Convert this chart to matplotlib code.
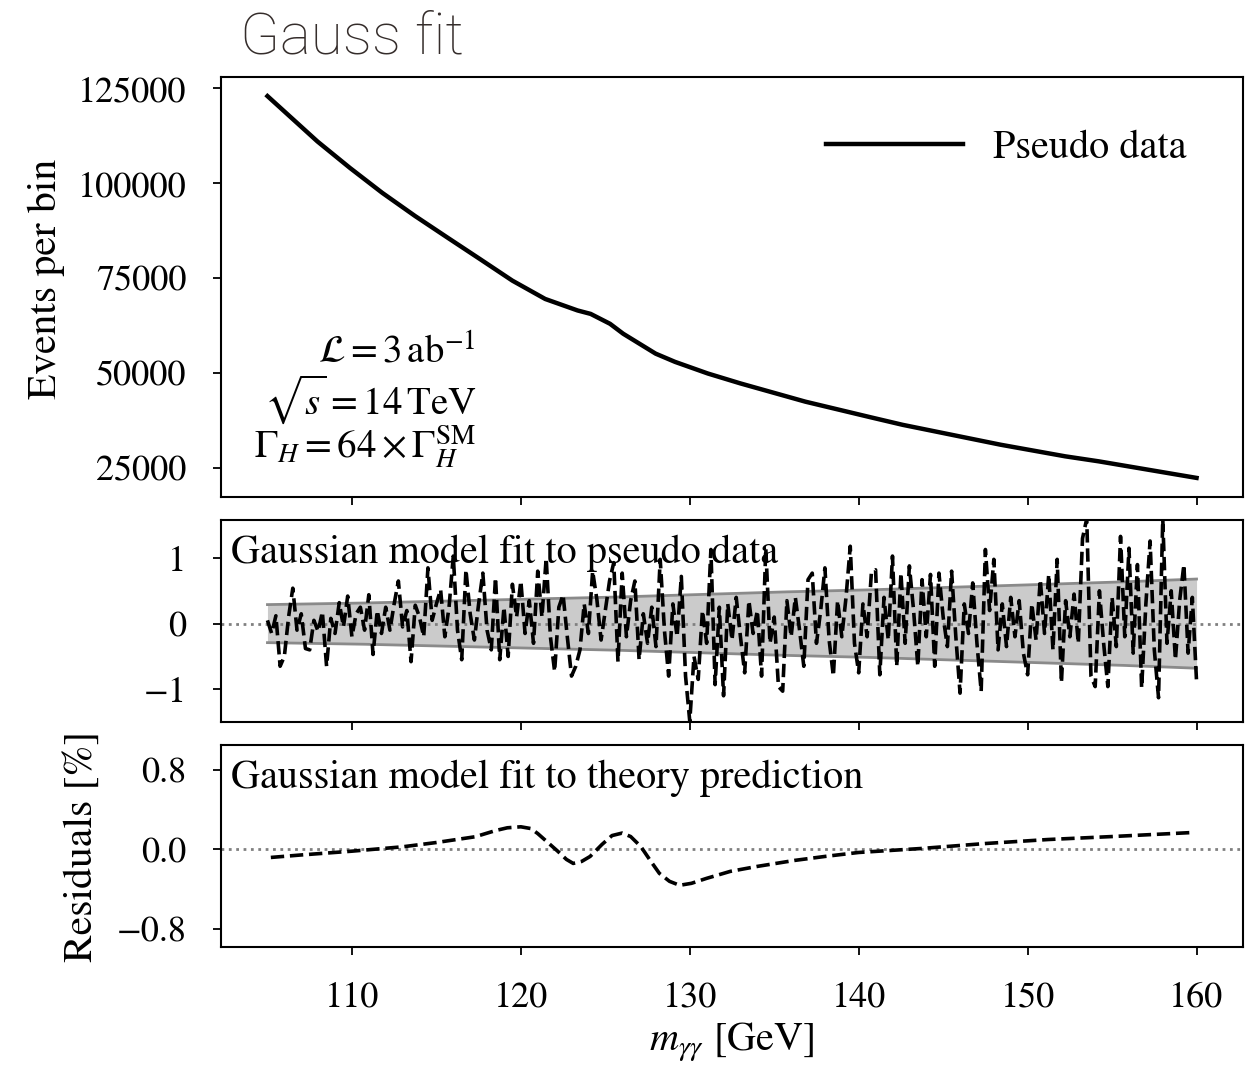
import numpy as np
import matplotlib
matplotlib.use("Agg")
import matplotlib.pyplot as plt

plt.rcParams['font.family'] = ['STIXGeneral', 'DejaVu Serif']
plt.rcParams['mathtext.fontset'] = 'stix'

# ---------------- data ----------------
# top panel: pseudo data (events per bin)
data_x = [105.0, 107.96, 109.89, 111.8, 113.74, 115.66, 117.59, 119.5, 121.44,
          123.36, 124.13, 125.28, 126.06, 127.98, 129.13, 131.07, 133.0, 136.84,
          140.7, 142.6, 148.4, 152.23, 154.2, 160.0]
data_y = [123000, 111050, 104060, 97510, 91420, 85730, 80060, 74400, 69580,
          66550, 65650, 63040, 60420, 55180, 53010, 49950, 47340, 42540,
          38430, 36440, 31200, 28140, 26830, 22460]

# middle panel: residuals of Gaussian fit to pseudo data (%), bins from 105 to 160 step 0.25
pseudo_start, pseudo_step = 105.0, 0.25
pseudo_res = [
    0.05, -0.15, 0.12, -0.65,
    -0.50, 0.10, 0.54, -0.10,
    0.15, -0.38, -0.40, 0.05,
    -0.12, 0.18, -0.65, 0.08,
    -0.15, 0.32, -0.05, 0.42,
    -0.20, 0.15, 0.25, -0.10,
    0.44, -0.47, 0.20, -0.15,
    0.25, -0.10, 0.30, 0.65,
    -0.05, 0.20, -0.58, 0.28,
    0.10, -0.20, 0.85, 0.05,
    0.30, 0.52, -0.20, 0.25,
    1.03, -0.10, -0.55, 0.82,
    0.15, -0.25, 0.30, 0.77,
    -0.10, -0.40, 0.70, -0.55,
    0.25, -0.50, 0.60, 0.10,
    0.65, -0.15, 0.35, -0.30,
    0.80, 0.10, 1.00, -0.20,
    -0.73, 0.25, 0.44, -0.20,
    -0.80, -0.65, -0.40, 0.30,
    -0.15, 0.80, 0.37, -0.25,
    0.20, 0.65, 0.93, -0.58,
    0.77, -0.20, 0.35, 0.65,
    -0.55, 0.15, -0.30, 0.25,
    -0.35, 0.98, -0.10, -0.80,
    0.30, -0.20, 0.72, -0.80,
    -1.49, -0.50, -0.85, 0.20,
    -0.30, 1.13, -0.93, 0.25,
    -1.10, 0.30, -0.25, 0.40,
    -0.20, -0.75, 0.35, -0.15,
    0.20, -0.80, 1.15, -0.30,
    0.10, -0.96, -1.03, 0.35,
    -0.20, 0.40, -0.10, -0.65,
    0.67, 0.77, -0.30, 0.20,
    0.85, -0.25, -0.80, 0.35,
    -0.20, 0.40, 1.18, -0.30,
    -0.75, 0.30, -0.20, 0.77,
    0.82, -0.78, 0.40, -0.25,
    1.03, -0.65, 0.77, -0.30,
    0.88, 0.20, -0.65, 0.67,
    -0.20, 0.75, -0.65, 0.77,
    0.10, -0.35, 0.80, -0.20,
    -1.06, 0.30, -0.15, 0.62,
    -0.30, -1.03, 1.13, 0.20,
    0.98, -0.40, 0.30, -0.35,
    0.40, -0.20, 0.35, -0.45,
    -0.78, 0.30, -0.25, 0.67,
    -0.15, 0.75, -0.40, 0.98,
    -0.90, 0.35, -0.20, 0.45,
    -0.30, 1.30, 1.60, -0.80,
    -0.96, 0.50, -0.30, -0.96,
    0.40, -0.35, 1.33, -0.20,
    1.15, -0.45, 0.90, -0.98,
    0.30, 1.26, -0.40, -1.13,
    1.60, -0.30, 0.50, -0.55,
    0.35, 0.90, -0.45, 0.40,
    -0.88,
]

# statistical uncertainty band (half-width, %)
band_x = [105, 110, 115, 120, 125, 130, 135, 140, 145, 150, 155, 160]
band_w = [0.29, 0.31, 0.34, 0.37, 0.40, 0.44, 0.48, 0.51, 0.55, 0.59, 0.63, 0.68]

# bottom panel: residuals of Gaussian fit to theory prediction (%)
theory_x = [105.2, 107.0, 110.0, 113.0, 115.0, 117.3, 118.5, 119.2, 120.0, 120.6,
            121.0, 121.6, 122.2, 122.7, 123.1, 123.6, 124.1, 124.8, 125.4, 126.0,
            126.5, 127.1, 127.7, 128.2, 128.8, 129.4, 130.1, 131.0, 132.4, 134.0,
            136.2, 138.0, 140.0, 143.7, 147.5, 151.2, 155.0, 159.7]
theory_y = [-0.08, -0.055, -0.017, 0.027, 0.07, 0.128, 0.19, 0.218, 0.228, 0.21,
            0.16, 0.07, -0.02, -0.10, -0.14, -0.12, -0.07, 0.05, 0.14, 0.165,
            0.13, 0.03, -0.12, -0.24, -0.32, -0.36, -0.34, -0.29, -0.22, -0.17,
            -0.11, -0.07, -0.03, 0.01, 0.06, 0.10, 0.13, 0.17]

top_yticks = [25000, 50000, 75000, 100000, 125000]
mid_yticks = [-1, 0, 1]
bot_yticks = [-0.8, 0.0, 0.8]
bot_yticklabels = ['\u22120.8', '0.0', '0.8']
x_ticks = [110, 120, 130, 140, 150, 160]

annotation_lines = [r'$\mathcal{L} = 3\,\mathrm{ab}^{-1}$',
                    r'$\sqrt{s} = 14\,\mathrm{TeV}$',
                    r'$\Gamma_H = 64 \times \Gamma_H^{\mathrm{SM}}$']

# ---------------- figure ----------------
W, H = 1260, 1066
fig = plt.figure(figsize=(W / 100, H / 100), dpi=100)

def ax_at(top, bottom, left=221, right=1243):
    return fig.add_axes([left / W, 1 - bottom / H, (right - left) / W, (bottom - top) / H])

ax1 = ax_at(77, 497)
ax2 = ax_at(520, 722)
ax3 = ax_at(745, 947)

TICK_FS = 26
TXT_FS = 29
LAB_FS = 30
for ax in (ax1, ax2, ax3):
    ax.set_xlim(102.25, 162.75)
    ax.set_xticks(x_ticks)
    ax.tick_params(direction='out', length=6, width=1.3, labelsize=TICK_FS, pad=19)
    for s in ax.spines.values():
        s.set_linewidth(1.5)
ax1.tick_params(labelbottom=False)
ax2.tick_params(labelbottom=False)

# top
ax1.plot(data_x, data_y, color='black', lw=3.2, label='Pseudo data')
ax1.set_ylim(17433, 128027)
ax1.set_yticks(top_yticks)
ax1.set_ylabel('Events per bin', fontsize=LAB_FS)
ax1.yaxis.set_label_coords(-0.153, 0.52)
ax1.legend(loc='center right', bbox_to_anchor=(0.945, 0.83), frameon=False,
           fontsize=TXT_FS, handlelength=3.4, handletextpad=0.75, borderaxespad=0,
           borderpad=0)
for txt, yb in zip(annotation_lines, [0.318, 0.197, 0.093]):
    ax1.text(0.2495, yb, txt, transform=ax1.transAxes, ha='right', va='baseline',
             fontsize=28)

# middle
px = pseudo_start + pseudo_step * np.arange(len(pseudo_res))
bw = np.interp(px, band_x, band_w)
ax2.fill_between(px, -bw, bw, color='#cbcbcb', lw=0, zorder=1)
ax2.plot(px, bw, color='#8a8a8a', lw=2, zorder=2)
ax2.plot(px, -bw, color='#8a8a8a', lw=2, zorder=2)
ax2.axhline(0, color='#808080', ls=':', lw=2, zorder=2.5)
ax2.plot(px, pseudo_res, color='black', lw=2.6, ls='--', zorder=3)
ax2.set_ylim(-1.5, 1.58)
ax2.set_yticks(mid_yticks)
ax2.text(0.01, 0.93, 'Gaussian model fit to pseudo data', transform=ax2.transAxes,
         ha='left', va='top', fontsize=TXT_FS, zorder=5)

# bottom
ax3.axhline(0, color='#808080', ls=':', lw=2)
ax3.plot(theory_x, theory_y, color='black', lw=2.6, ls='--')
ax3.set_ylim(-0.98, 1.05)
ax3.set_yticks(bot_yticks)
ax3.set_yticklabels(bot_yticklabels)
ax3.set_ylabel('Residuals [%]', fontsize=LAB_FS)
ax3.yaxis.set_label_coords(-0.118, 0.5)
ax3.text(0.01, 0.93, 'Gaussian model fit to theory prediction', transform=ax3.transAxes,
         ha='left', va='top', fontsize=TXT_FS)
ax3.set_xlabel(r'$m_{\gamma\gamma}$ [GeV]', fontsize=TXT_FS, labelpad=4)

fig.text(240 / W, 1 - 53 / H, 'Gauss fit', family=['Roboto', 'Lato', 'DejaVu Sans'],
         weight='light', fontsize=42, color='#352d2b', ha='left', va='baseline')

fig.savefig('out.png', dpi=100)
